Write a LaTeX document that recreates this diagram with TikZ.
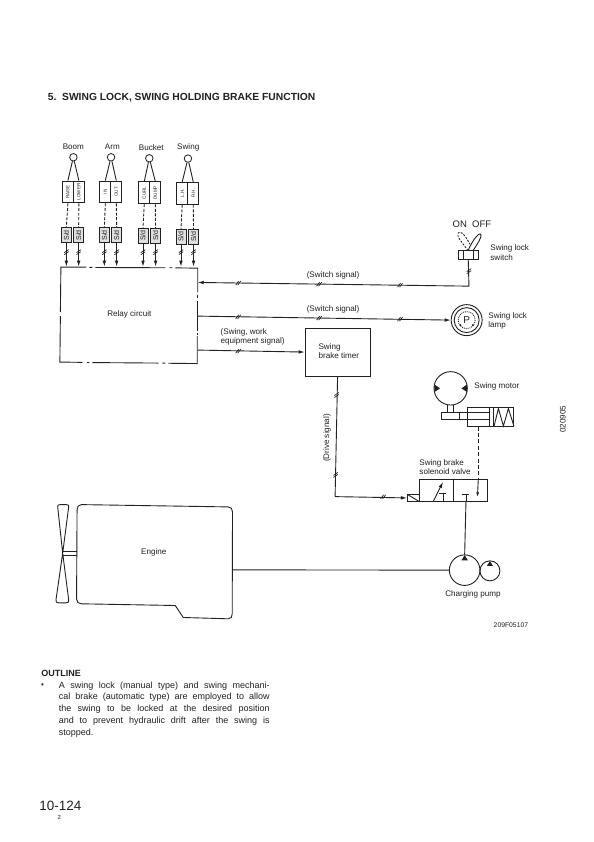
\documentclass[tikz,border=0pt]{standalone}
\usepackage{fontspec}
\setmainfont{Liberation Sans}
\usetikzlibrary{arrows.meta}
\definecolor{ink}{gray}{0.13}
\tikzset{
  every path/.style={line width=0.9pt,draw=ink},
  lab/.style={inner sep=0pt,text=ink,font=\fontsize{8.1}{9.2}\selectfont,align=left},
  tip/.style={-{Latex[length=6pt,width=3.6pt]}},
  hold/.style={draw=none,inner sep=0pt,minimum size=0pt},
  tiny/.style={inner sep=0pt,rotate=90,text=ink,font=\fontsize{4.6}{5}\selectfont},
  sdbox/.style={draw=ink,fill=black!12,minimum width=10pt,minimum height=15pt,inner sep=0pt,text=ink,font=\fontsize{7}{8}\selectfont},
  conbox/.style={draw=ink,fill=white,minimum width=11pt,minimum height=22pt,inner sep=0pt},
  lampball/.style={draw=ink,fill=white,circle,minimum size=7.5pt,inner sep=0pt,line width=0.8pt}
}
\newcommand{\hh}[2]{\draw[line width=0.7pt] (#1-2.5,#2+2) -- (#1+0.5,#2-2) (#1-0.5,#2+2) -- (#1+2.5,#2-2);}
\newcommand{\hv}[2]{\draw[line width=0.7pt] (#1-2.2,#2+0.5) -- (#1+2.2,#2-2.5) (#1-2.2,#2+2.5) -- (#1+2.2,#2-0.5);}
\begin{document}
\begin{tikzpicture}[x=1pt,y=-1pt]
\useasboundingbox (0,0) rectangle (593,842);
\fill[white,draw=none] (0,0) rectangle (593,842);

\node[lab,anchor=west,font=\bfseries\fontsize{10.3}{12}\selectfont] (title) at (47,97) {5.\ \ SWING LOCK, SWING HOLDING BRAKE FUNCTION};

% column heads
\foreach \nm/\lx/\ly/\cx/\cy/\txt in {a/73/146/73/157/Boom,b/112/146/110.7/157/Arm,c/151/147/149/158/Bucket,d/188/147/187.7/158.3/Swing}{
  \node[lab] (head\nm) at (\lx,\ly) {\txt};
  \node[lampball] (ball\nm) at (\cx,\cy) {};
}
% contact boxes, S/d boxes and their links
\foreach \k/\bx/\by/\sx/\sy/\word/\grp in {
 1/67.5/191.7/66/235.2/RAISE/a, 2/78.5/191.7/78.3/235.2/LOWER/a,
 3/105/191.7/104/235.2/IN/b, 4/116/191.7/116.3/235.2/OUT/b,
 5/144/192.5/142.7/235.5/CURL/c, 6/155/192.5/155.3/235.5/DUMP/c,
 7/182/193/180.7/236.5/L.H./d, 8/193/193/193.3/236.5/R.H./d}{
  \node[conbox] (con\k) at (\bx,\by) {};
  \node[tiny] (word\k) at (\bx,\by) {\word};
  \node[sdbox] (sd\k) at (\sx,\sy) {\rotatebox{90}{S/d}};
  \draw[dash pattern=on 3pt off 1.6pt] (con\k.south) -- (sd\k.north);
  \coordinate (in\k) at (\sx,266.5);
  \draw[tip] (sd\k.south) -- (in\k);
  \hv{\sx}{252}
  \draw (ball\grp) -- (con\k.north);
}

% relay circuit
\node[lab] (relaytext) at (129,314) {Relay circuit};
\coordinate (rTL) at (60.5,267); \coordinate (rTR) at (197.5,268);
\coordinate (rBL) at (59.5,362); \coordinate (rBR) at (197,363.5);
\draw (86,267) -- (rTL) -- (60,312);
\draw (60,316) -- (rBL) -- (82,362.3);
\draw (86.5,362.4) -- (89,362.4) (92,362.5) -- (158,363) (162,363.1) -- (165,363.1) (168,363.2) -- (rBR) -- (197,336);
\draw (89,267.2) -- (92,267.2) (95,267.3) -- (165,267.6) (169,267.6) -- (172,267.6) (175,267.7) -- (rTR) -- (197.5,292);
\draw (197.5,295) -- (197.5,298) (197.4,301) -- (197.4,331) (197.3,333) -- (197.3,335);

% switch
\node[lab,font=\fontsize{9.5}{11}\selectfont,text=ink] (onoff) at (472,224) {ON\ \ OFF};
\node[draw=ink,fill=white,minimum width=20pt,minimum height=8.5pt,inner sep=0pt] (swbox) at (468.3,254.8) {};
\draw (463.5,250.5) -- (463.5,259) (473.5,250.5) -- (473.5,259);
\draw (468,250.5) .. controls (474,237) and (480,232) .. (481,234) .. controls (482,237) and (478,243) .. (473,250.5);
\draw[dash pattern=on 2pt off 1.4pt] (468,250.5) .. controls (463,243) and (456,236) .. (458,233) .. controls (460,230) and (464,233) .. (470,244);
\node[lab,anchor=west] (swtxt) at (490,252.5) {Swing lock\\switch};

% lamp
\node[draw=ink,circle,minimum size=31pt,inner sep=0pt] (lamp) at (466.7,320) {};
\draw (466.7,320) circle (12.5);
\draw[densely dotted] (466.7,320) circle (8.5);
\node[lab,font=\fontsize{10}{11}\selectfont] (ptxt) at (466.7,320) {P};
\fill[ink,draw=none] (460.5,325) circle (1.1) (473,325) circle (1.1);
\node[lab,anchor=west] (lamptxt) at (488,320.5) {Swing lock\\lamp};

% signal lines
\coordinate (swdown) at (469,286);
\coordinate (r1) at (197.5,282.3);
\coordinate (r2) at (197.4,316);
\coordinate (r3) at (197.3,350);
\draw[tip] (swbox.south) -- (swdown) -- (r1);
\hv{469}{271}
\hh{238}{283}\hh{319}{284}\hh{400}{285}
\draw[tip] (r2) -- (lamp.west);
\hh{238}{316.7}\hh{319}{318}\hh{400}{319}
\node[lab] (s1) at (333,275) {(Switch signal)};
\node[lab] (s2) at (333,309) {(Switch signal)};
\node[lab,anchor=west] (s3) at (220,337.2) {(Swing, work\\equipment signal)};
\node[draw=ink,minimum width=65pt,minimum height=48pt,inner sep=0pt] (timer) at (337.5,352) {};
\node[lab,anchor=west] (ttxt) at (318,351) {Swing\\brake timer};
\draw[tip] (r3) -- (timer.west);
\hh{238}{351}

% drive signal
\node[hold] (corner) at (335,496.7) {};
\node[draw=ink,minimum width=11.6pt,minimum height=7pt,inner sep=0pt] (sol) at (413.2,498) {};
\draw (407.4,494.5) -- (419,501.5);
\draw (timer.south) -- (corner.center);
\draw[tip] (corner.center) -- (sol.west);
\hv{336.5}{395}\hv{335.5}{475}\hh{383}{497}
\node[lab,rotate=90] (dtxt) at (327,438) {(Drive signal)};

% valve
\node[draw=ink,minimum width=69pt,minimum height=22pt,inner sep=0pt] (valve) at (453.5,491) {};
\draw (453,480) -- (453,502);
\draw[tip] (433,502) -- (443,482);
\draw (443,493.5) -- (443,502) (439.5,493.5) -- (446.5,493.5);
\draw (466,495) -- (466,502) (462.5,495) -- (469.5,495);
\node[lab,anchor=west] (vtxt) at (419,467.5) {Swing brake\\solenoid valve};

% motor and brake
\node[draw=ink,circle,minimum size=33.4pt,inner sep=0pt] (motor) at (450.7,388.3) {};
\fill[ink,draw=none] (434.5,384.5) -- (440,388.3) -- (434.5,392) -- cycle;
\fill[ink,draw=none] (467,384.5) -- (461.5,388.3) -- (467,392) -- cycle;
\node[lab,anchor=west] (mtxt) at (474,386) {Swing motor};
\draw (447,405) -- (447,412.7) (453.5,405) -- (453.5,412.7);
\node[draw=ink,minimum width=46.6pt,minimum height=19.4pt,inner sep=0pt] (cyl) at (490.7,417) {};
\draw (489.5,412.7) -- (441.7,412.7) -- (441.7,419.4) -- (489.5,419.4);
\draw (459.7,412.7) -- (459.7,419.4);
\draw (489.5,407.3) -- (489.5,426.7) (494,407.3) -- (494,426.7);
\draw (494,426.7) -- (498.5,408.5) -- (503.5,426) -- (508.5,408.5) -- (514,426);
\coordinate (vtop) at (478.3,480);
\coordinate (cylbot) at (478.3,426.7);
\draw[dash pattern=on 4pt off 2.4pt] (cylbot) -- (vtop);
\draw[-{Latex[length=4.5pt,width=3pt]}] (vtop) -- (477.5,497);

% pump
\node[draw=ink,circle,minimum size=30.6pt,inner sep=0pt] (pump) at (464.7,570.3) {};
\node[draw=ink,circle,minimum size=20pt,inner sep=0pt] (pump2) at (490,571) {};
\fill[ink,draw=none] (464.7,555.3) -- (461.5,560.5) -- (468,560.5) -- cycle;
\fill[ink,draw=none] (490,561.2) -- (487,566) -- (493,566) -- cycle;
\draw (466,502) -- (pump.north);
\node[lab] (ptx) at (473,594.5) {Charging pump};

% engine and fan
\node[lab] (etxt) at (153.5,553) {Engine};
\draw (81,504.7) -- (228,507) .. controls (231,507.2) and (232.3,509) .. (232.3,512) -- (232,614) .. controls (232,617) and (231,619) .. (228,619) -- (183,617.7) -- (175,605.7) -- (81,604) .. controls (78,604) and (76,602) .. (76.2,599) -- (76.7,510) .. controls (76.7,507) and (78,504.7) .. (81,504.7);
\coordinate (enR) at (232,570);
\draw (enR) -- (pump.west);
\draw (62.3,553.3) -- (57.3,507) .. controls (57,505) and (58,504.7) .. (60,504.7) -- (66,504.7) .. controls (68,504.7) and (68.6,505.5) .. (68.3,507) -- (62.3,553.3) -- (68.3,600) .. controls (68.6,602) and (68,603) .. (66,603) -- (58,603) .. controls (56,603) and (55.3,602) .. (55.6,600) -- (62.3,553.3);
\draw (62.3,551.7) -- (76.7,551.7) (62.3,556) -- (76.7,556);

% margin labels
\node[lab,rotate=90] (code1) at (563,419) {020905};
\node[lab,font=\fontsize{6.8}{8}\selectfont] (code2) at (511,625) {209F05107};

% outline
\node[lab,anchor=west,font=\bfseries\fontsize{9}{10}\selectfont] (outl) at (40.5,674) {OUTLINE};
\node[lab,font=\fontsize{8}{9}\selectfont] (bull) at (42,686) {•};
\node[lab,anchor=north west,font=\fontsize{9}{11.8}\selectfont] (para) at (58,681.5) {%
\makebox[211pt][s]{A swing lock (manual type) and swing mechani-}\\
\makebox[211pt][s]{cal brake (automatic type) are employed to allow}\\
\makebox[211pt][s]{the swing to be locked at the desired position}\\
\makebox[211pt][s]{and to prevent hydraulic drift after the swing is}\\
stopped.};
\node[lab,anchor=west,font=\fontsize{13.5}{15}\selectfont] (pg) at (38.5,806) {10-124};
\node[lab,font=\fontsize{6}{7}\selectfont] (pg2) at (59,817.5) {2};
\end{tikzpicture}
\end{document}
